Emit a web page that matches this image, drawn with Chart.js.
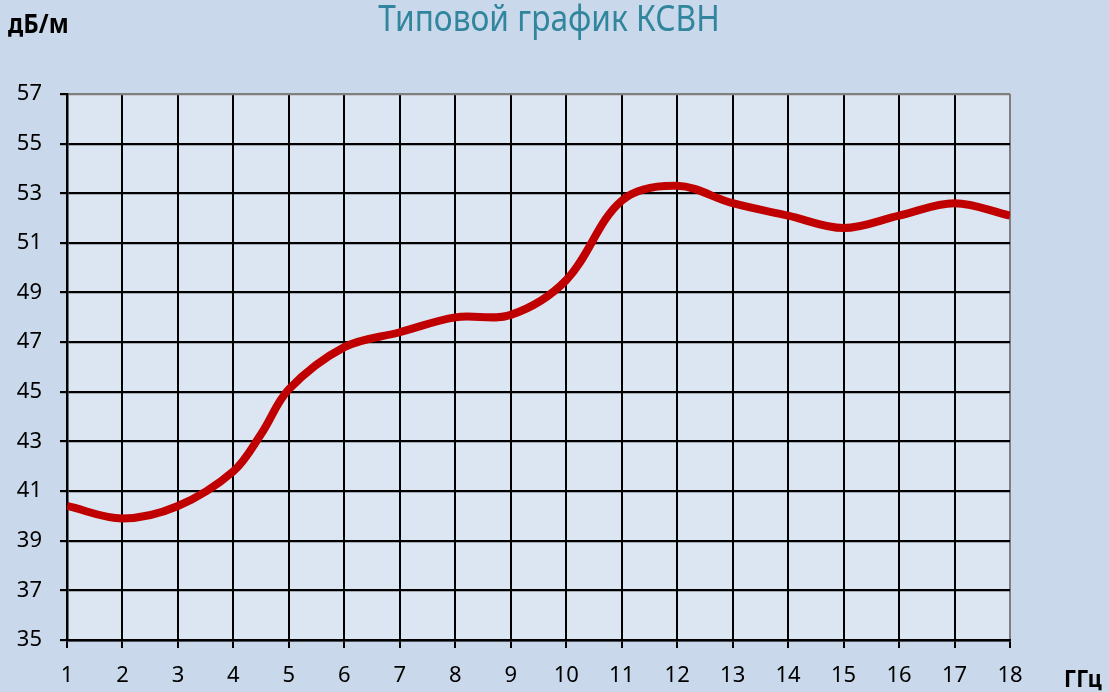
<!DOCTYPE html>
<html>
<head>
<meta charset="utf-8">
<script src="https://cdn.jsdelivr.net/npm/chart.js@4/dist/chart.umd.min.js"></script>
<style>
    html, body { margin: 0; padding: 0; background: #c9d9eb; }
    #wrap { position: relative; width: 1109px; height: 692px; font-family: 'Noto Sans', 'Open Sans', sans-serif; }
    #chart { position: absolute; left: 0; top: 0; }
    .lbl { position: absolute; white-space: nowrap; line-height: 1; }
    #title { left: 0; width: 1098px; top: 0; text-align: center; font-size: 36px; color: #31859c; transform: scaleX(0.88); }
    #yunit { left: 8px; top: 10px; font-size: 26px; font-weight: bold; color: #000; transform: scaleX(0.92); transform-origin: left center; }
    #xunit { left: 1064px; top: 666px; font-size: 24px; font-weight: bold; color: #000; transform: scaleX(0.9); transform-origin: left center; }
</style>
</head>
<body>
<div id="wrap">
    <canvas id="chart" width="1109" height="692"></canvas>
    <div class="lbl" id="title">Типовой график КСВН</div>
    <div class="lbl" id="yunit">дБ/м</div>
    <div class="lbl" id="xunit">ГГц</div>
</div>
<script>
//Typical VSWR curve: frequency (GHz) vs attenuation (dB/m)
const FREQ_GHZ = [1, 2, 3, 4, 4.5, 5, 6, 7, 8, 9, 10, 11, 12, 13, 14, 15, 16, 17, 18];
const DB_PER_M = [40.4, 39.9, 40.4, 41.8, 43.3, 45.1, 46.8, 47.4, 48.0, 48.1, 49.5, 52.7, 53.3, 52.6, 52.1, 51.6, 52.1, 52.6, 52.1];

const Y_MIN = 35;
const Y_MAX = 57;
const X_MIN = 1;
const X_MAX = 18;

const points = FREQ_GHZ.map((f, i) => ({ x: f, y: DB_PER_M[i] }));

//light inner panel behind the grid
const plotBg = {
    id: 'plot-bg',
    beforeDraw(chart)
    {
        const a = chart.chartArea;
        const ctx = chart.ctx;
        ctx.save();
        ctx.fillStyle = '#dce6f2';
        ctx.fillRect(a.left, a.top, a.right - a.left, a.bottom - a.top);
        ctx.restore();
    },
};

new Chart(document.getElementById('chart'), {
    type: 'line',
    data: {
        datasets: [{
            data: points,
            borderColor: '#c00000',
            borderWidth: 8,
            pointRadius: 0,
            tension: 0.35,
            fill: false,
        }],
    },
    options: {
        responsive: false,
        animation: false,
        layout: { padding: { top: 94, right: 99, bottom: 0, left: 0 } },
        plugins: { legend: { display: false }, tooltip: { enabled: false } },
        scales: {
            x: {
                type: 'linear',
                min: X_MIN,
                max: X_MAX,
                afterFit: (s) => { s.height = 52; },
                ticks: {
                    stepSize: 1,
                    color: '#000',
                    padding: 15,
                    font: { family: 'Noto Sans', size: 22 },
                },
                grid: {
                    color: (c) => (c.tick && c.tick.value === X_MAX ? '#7f7f7f' : '#000'),
                    lineWidth: 2,
                    tickLength: 8,
                    tickColor: '#000',
                },
                border: { color: '#000', width: 2.5 },
            },
            y: {
                min: Y_MIN,
                max: Y_MAX,
                afterFit: (s) => { s.width = 67; },
                ticks: {
                    stepSize: 1,
                    color: '#000',
                    padding: 18,
                    font: { family: 'Noto Sans', size: 22 },
                    callback: (v) => (v % 2 === 1 ? String(v) : ''),
                },
                grid: {
                    color: (c) =>
                    {
                        if (!c.tick) return '#000';
                        if (c.tick.value === Y_MAX) return '#7f7f7f';
                        return c.tick.value % 2 === 1 ? '#000' : '#3c3c3c';
                    },
                    lineWidth: (c) => (c.tick && c.tick.value % 2 === 1 ? 2.2 : 1.3),
                    tickLength: 7,
                    tickColor: (c) => (c.tick && c.tick.value % 2 === 1 ? '#000' : 'transparent'),
                },
                border: { color: '#000', width: 2.5 },
            },
        },
    },
    plugins: [plotBg],
});
</script>
</body>
</html>
